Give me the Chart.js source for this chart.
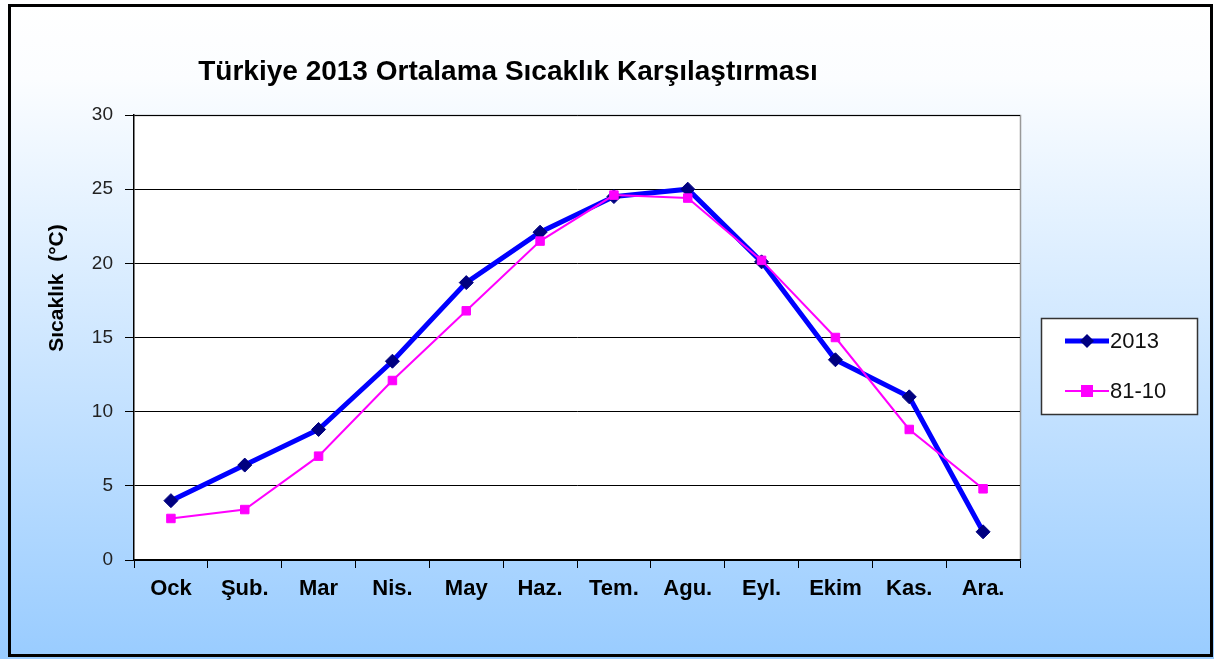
<!DOCTYPE html>
<html><head><meta charset="utf-8">
<script src="https://cdn.jsdelivr.net/npm/chart.js@4.4.0/dist/chart.umd.min.js"></script>
<style>html,body{margin:0;padding:0;background:#fff}#wrap{width:1214px;height:659px}</style>
</head><body><div id="wrap"><canvas id="c" width="1214" height="659"></canvas></div>
<script>
const categories = ["Ock","Şub.","Mar","Nis.","May","Haz.","Tem.","Agu.","Eyl.","Ekim","Kas.","Ara."];
const series2013 = [4.0, 6.4, 8.8, 13.4, 18.7, 22.1, 24.5, 25.0, 20.1, 13.5, 11.0, 1.9];
const series8110 = [2.8, 3.4, 7.0, 12.1, 16.8, 21.5, 24.6, 24.4, 20.2, 15.0, 8.8, 4.8];
const yTicks = [0, 5, 10, 15, 20, 25, 30];
const titleText = "Türkiye 2013 Ortalama Sıcaklık Karşılaştırması";
const yTitle = "Sıcaklık  (°C)";

const FONT = '"Liberation Sans", Arial, sans-serif';

const deco = {
  id: 'deco',
  beforeDraw(chart) {
    const ctx = chart.ctx, W = chart.width, H = chart.height, a = chart.chartArea;
    ctx.save();
    const g = ctx.createLinearGradient(0, 0, 0, H);
    g.addColorStop(0, '#ffffff');
    g.addColorStop(0.12, '#fbfdff');
    g.addColorStop(1, '#99ccff');
    ctx.fillStyle = g;
    ctx.fillRect(0, 0, W, H);
    ctx.fillStyle = '#ffffff';
    ctx.fillRect(a.left, a.top, a.right - a.left, a.bottom - a.top);
    ctx.strokeStyle = '#999999';
    ctx.lineWidth = 1.5;
    ctx.beginPath();
    ctx.moveTo(a.left, a.top + 0.5); ctx.lineTo(a.right + 0.5, a.top + 0.5); ctx.lineTo(a.right + 0.5, a.bottom);
    ctx.stroke();
    ctx.restore();
  },
  afterDraw(chart) {
    const ctx = chart.ctx, W = chart.width, H = chart.height;
    ctx.save();
    ctx.strokeStyle = '#000';
    ctx.lineWidth = 3;
    ctx.strokeRect(9.5, 5.5, W - 12, H - 9);
    ctx.fillStyle = '#000';
    ctx.font = 'bold 28px ' + FONT;
    ctx.textAlign = 'center';
    ctx.textBaseline = 'alphabetic';
    ctx.fillText(titleText, 508, 80);
    ctx.save();
    ctx.translate(57, 288);
    ctx.rotate(-Math.PI / 2);
    ctx.textBaseline = 'middle';
    ctx.font = 'bold 21px ' + FONT;
    ctx.fillText(yTitle, 0, 0);
    ctx.restore();
    const lx = 1041, ly = 318, lw = 156, lh = 96;
    ctx.fillStyle = '#fff';
    ctx.fillRect(lx, ly, lw, lh);
    ctx.strokeStyle = '#333';
    ctx.lineWidth = 1.5;
    ctx.strokeRect(lx + 0.5, ly + 0.5, lw, lh);
    const ds = chart.data.datasets;
    const rows = [341, 391];
    ds.forEach((d, i) => {
      const y = rows[i];
      ctx.strokeStyle = d.borderColor;
      ctx.lineWidth = d.borderWidth;
      ctx.beginPath(); ctx.moveTo(1065, y); ctx.lineTo(1109, y); ctx.stroke();
      ctx.fillStyle = d.pointBackgroundColor;
      const cx = 1087;
      if (d.pointStyle === 'rectRot') {
        ctx.beginPath(); ctx.moveTo(cx, y - 7); ctx.lineTo(cx + 7, y); ctx.lineTo(cx, y + 7); ctx.lineTo(cx - 7, y); ctx.closePath(); ctx.fill();
      } else {
        ctx.fillRect(cx - 6, y - 6, 12, 12);
      }
      ctx.fillStyle = '#111';
      ctx.font = '22px ' + FONT;
      ctx.textAlign = 'left';
      ctx.textBaseline = 'middle';
      ctx.fillText(d.label, 1110, y + 1);
    });
    ctx.restore();
  }
};

new Chart(document.getElementById('c'), {
  type: 'line',
  data: {
    labels: categories,
    datasets: [
      { label: '2013', data: series2013, borderColor: '#0000ff', borderWidth: 5,
        pointStyle: 'rectRot', pointRadius: 7, pointHoverRadius: 7,
        pointBackgroundColor: '#000080', pointBorderColor: '#000080', pointBorderWidth: 1, tension: 0, order: 2 },
      { label: '81-10', data: series8110, borderColor: '#ff00ff', borderWidth: 2,
        pointStyle: 'rect', pointRadius: 6, pointHoverRadius: 6,
        pointBackgroundColor: '#ff00ff', pointBorderColor: '#ff00ff', pointBorderWidth: 1, tension: 0, order: 1 }
    ]
  },
  options: {
    responsive: false,
    animation: false,
    devicePixelRatio: 1,
    layout: { padding: { left: 0, top: 115, right: 194, bottom: 0 } },
    plugins: { legend: { display: false }, title: { display: false }, tooltip: { enabled: false } },
    scales: {
      x: {
        offset: true,
        grid: { display: true, drawOnChartArea: false, drawTicks: true, tickLength: 8, color: '#000', offset: true },
        border: { display: true, color: '#000', width: 1.5 },
        ticks: { color: '#000', padding: 8, font: { family: FONT, size: 22, weight: 'bold' }, maxRotation: 0 },
        afterFit(s) { s.height = 99; }
      },
      y: {
        min: 0, max: 30,
        afterBuildTicks(s) { s.ticks = yTicks.map(v => ({ value: v })); },
        grid: { color: '#000', lineWidth: 1, tickLength: 9 },
        border: { display: true, color: '#000', width: 1.5 },
        ticks: { color: '#222', padding: 12, font: { family: FONT, size: 19 } },
        afterFit(s) { s.width = 134; }
      }
    }
  },
  plugins: [deco]
});
</script></body></html>
